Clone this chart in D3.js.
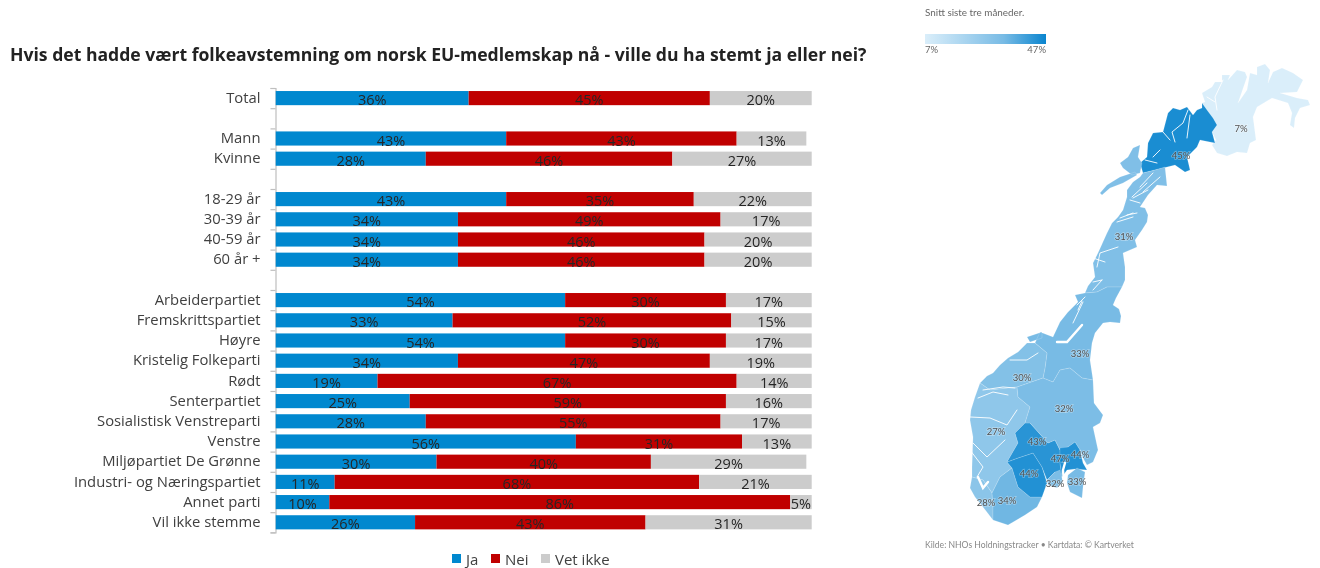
<!DOCTYPE html>
<html><head><meta charset="utf-8">
<script src="https://cdn.jsdelivr.net/npm/d3@7/dist/d3.min.js"></script>
<style>html,body{margin:0;background:#fff}svg{display:block;filter:blur(.35px)}</style></head>
<body><svg id="c" width="1320" height="568"></svg>
<script>
const titleText="Hvis det hadde vært folkeavstemning om norsk EU-medlemskap nå - ville du ha stemt ja eller nei?";
const categories=["Total"," ","Mann","Kvinne","  ","18-29 år","30-39 år","40-59 år","60 år +","   ","Arbeiderpartiet","Fremskrittspartiet","Høyre","Kristelig Folkeparti","Rødt","Senterpartiet","Sosialistisk Venstreparti","Venstre","Miljøpartiet De Grønne","Industri- og Næringspartiet","Annet parti","Vil ikke stemme"];
const ja=[36,null,43,28,null,43,34,34,34,null,54,33,54,34,19,25,28,56,30,11,10,26];
const nei=[45,null,43,46,null,35,49,46,46,null,30,52,30,47,67,59,55,31,40,68,86,43];
const vetIkke=[20,null,13,27,null,22,17,20,20,null,17,15,17,19,14,16,17,13,29,21,5,31];
const seriesNames=["Ja","Nei","Vet ikke"];
const seriesColors=["#0088cf","#c00000","#cccccc"];
const legendMin=7,legendMax=47;
const mapCaption="Snitt siste tre måneder.";
const mapSource="Kilde: NHOs Holdningstracker • Kartdata: © Kartverket";

/* County outlines, in map units */
const finnmark=[[302,43],[305,42],[302,33],[312,27],[315,22],[322,22],[322,15],[330,15],[328,20],[337,10],[345,12],[347,17],[338,43],[347,30],[350,13],[357,15],[357,7],[365,4],[370,10],[368,23],[373,12],[382,8],[393,13],[403,20],[397,32],[380,33],[397,38],[408,40],[410,45],[400,48],[395,58],[394,68],[390,65],[392,53],[388,43],[372,38],[357,47],[353,57],[356,80],[350,83],[347,93],[337,92],[327,96],[317,93],[312,85],[316,80],[312,72],[317,65],[313,58],[307,50]];
const troms=[[302,43],[307,50],[313,58],[317,65],[312,72],[315,83],[300,80],[297,87],[287,97],[290,110],[285,112],[275,105],[263,108],[255,110],[243,113],[240,103],[247,97],[248,83],[253,73],[263,72],[268,53],[273,48],[280,50],[287,47],[293,55],[297,50],[302,48]];
const nordland=[[243,113],[255,110],[265,107],[267,126],[257,125],[248,135],[240,147],[245,148],[248,155],[247,162],[242,170],[235,180],[237,187],[223,193],[225,207],[225,220],[222,227],[207,227],[197,232],[185,233],[188,226],[195,217],[193,203],[198,193],[207,173],[212,163],[218,157],[223,150],[227,137],[227,130],[233,122],[240,117]];
const vesteralen=[[220,103],[228,97],[233,88],[240,85],[238,97],[242,103],[240,113],[232,115],[223,108]];
const lofoten=[[200,133],[207,125],[220,117],[235,112],[237,115],[223,123],[210,128],[202,135]];
const trondelag=[[185,233],[197,232],[207,227],[222,227],[216,238],[213,245],[219,249],[221,256],[220,263],[210,262],[203,263],[195,273],[192,283],[190,300],[193,320],[182,318],[170,308],[160,310],[153,322],[143,318],[145,308],[147,293],[135,283],[140,272],[153,277],[160,262],[168,252],[178,242],[175,235]];
const hitra=[[127,277],[142,272],[142,278],[130,282]];
const more=[[135,283],[147,293],[145,308],[143,318],[117,327],[90,330],[80,323],[87,316],[93,313],[100,305],[108,298],[118,292],[127,283]];
const vestland=[[80,323],[90,330],[117,327],[118,337],[130,347],[125,363],[115,373],[118,383],[107,402],[112,408],[100,417],[92,433],[83,420],[72,417],[72,407],[73,377],[70,360],[71,350],[75,337]];
const rogaland=[[72,417],[83,420],[92,433],[93,447],[93,460],[83,447],[75,437],[70,428]];
const agder=[[112,408],[118,427],[130,437],[142,437],[137,447],[125,455],[108,465],[93,460],[93,447],[92,433],[100,417]];
const telemark=[[107,402],[118,398],[133,393],[142,407],[147,423],[142,437],[130,437],[118,427],[112,408]];
const buskerud=[[130,363],[148,383],[155,380],[160,390],[160,403],[162,417],[155,412],[147,420],[142,407],[133,393],[118,398],[107,402],[118,383],[115,373],[125,363]];
const innlandet=[[117,327],[143,318],[153,322],[160,310],[170,308],[182,318],[193,320],[194,343],[203,355],[200,363],[193,367],[198,390],[193,402],[187,405],[183,398],[180,390],[175,382],[168,387],[160,390],[155,380],[148,383],[130,363],[125,363],[130,347],[118,337]];
const akershus=[[160,388],[168,387],[175,382],[180,390],[183,403],[187,410],[175,409],[167,410],[162,417],[160,403]];
const oslo=[[160,395],[167,395],[165,402],[160,402]];
const vestfold=[[155,412],[160,410],[162,418],[163,422],[157,428],[148,425],[147,420]];
const ostfold=[[168,415],[177,408],[185,412],[183,427],[182,438],[170,432],[167,423]];
const counties=[
 {v:7,rings:[finnmark],at:[341,68]},
 {v:45,rings:[troms],at:[281,95]},
 {v:31,rings:[nordland,vesteralen,lofoten],at:[224,176]},
 {v:33,rings:[trondelag,hitra],at:[180,293]},
 {v:30,rings:[more],at:[122,317]},
 {v:27,rings:[vestland],at:[96,371]},
 {v:28,rings:[rogaland],at:[86,442]},
 {v:34,rings:[agder],at:[107,440]},
 {v:44,rings:[telemark],at:[129,413]},
 {v:43,rings:[buskerud],at:[137,381]},
 {v:32,rings:[innlandet],at:[164,348]},
 {v:44,rings:[akershus],at:[180,394]},
 {v:47,rings:[oslo],at:[160,398]},
 {v:32,rings:[vestfold],at:[155,423]},
 {v:33,rings:[ostfold],at:[177,421]}
];
const fjords=[
 [[288,50],[283,63],[272,72],[275,82]],[[290,55],[287,78]],[[263,72],[270,80]],[[253,97],[260,90]],[[245,100],[257,103]],
 [[323,20],[315,37],[317,50]],[[307,37],[315,42]],
 [[248,130],[233,138]],[[240,143],[230,140]],[[233,153],[220,158]],[[218,187],[200,193],[197,207]],[[202,220],[193,230]],
 [[190,197],[205,202]],[[193,222],[202,220]],[[177,245],[185,237]],[[178,250],[182,241]],[[227,155],[237,153]],[[217,162],[233,157]],
 [[240,127],[253,113]],[[243,132],[260,117]],[[232,137],[247,123]],
 [[183,242],[173,263]],[[110,300],[127,300],[138,293]],[[83,330],[103,327],[115,328]],[[78,338],[93,332],[108,335]],
 [[70,357],[90,358],[107,365],[117,350]],[[73,383],[87,397],[105,380]],[[70,390],[83,407],[77,417]]
];
const wideFjords=[[[157,282],[167,282],[182,265]],[[78,417],[83,428],[88,422]],[[165,403],[163,410],[164,423]]];

const svg=d3.select("#c");
const F='"Open Sans",sans-serif';
svg.append("text").attr("x",10).attr("y",61).attr("font-family",F).attr("font-weight",700).attr("font-size",17.6).attr("fill","#222").text(titleText);

const x=d3.scaleLinear().domain([0,100]).range([275.7,811.7]).clamp(true);
const edges=d3.scaleLinear().domain([0,categories.length]).range([88,532.4]);
const y=d3.scaleBand().domain(categories).range([88,532.4]).paddingInner(.3).paddingOuter(.15);

const gEdge=svg.append("g").attr("transform","translate(275.5,0)").call(d3.axisLeft(edges).tickValues(d3.range(categories.length+1)).tickSize(5).tickFormat(""));
gEdge.selectAll("path,line").attr("stroke","#bfbfbf").attr("stroke-width",1.2);
const gLab=svg.append("g").attr("transform","translate(275.5,0)").call(d3.axisLeft(y).tickSize(0).tickPadding(15));
gLab.select(".domain").remove();
gLab.selectAll("text").attr("font-family",F).attr("font-size",14.8).attr("fill","#404040");

const rows=categories.map((c,i)=>({c,vals:[ja[i],nei[i],vetIkke[i]]})).filter(r=>r.vals[0]!==null);
const rowG=svg.append("g").selectAll("g").data(rows).join("g");
rowG.each(function(r){
 let cum=0;
 const g=d3.select(this);
 r.vals.forEach((v,k)=>{
  const x0=x(cum),x1=x(cum+v);cum+=v;
  g.append("rect").attr("x",x0).attr("y",y(r.c)).attr("width",x1-x0).attr("height",y.bandwidth()).attr("fill",seriesColors[k]);
  g.append("text").attr("x",(x0+x1)/2).attr("y",y(r.c)+y.bandwidth()/2+7).attr("text-anchor","middle").attr("font-family",F).attr("font-size",14.5).attr("fill","#262626").text(v+"%");
 });
});

const legX=[452,491,541];
const leg=svg.append("g").selectAll("g").data(seriesNames).join("g").attr("transform",(d,i)=>`translate(${legX[i]},554)`);
leg.append("rect").attr("width",9).attr("height",9).attr("fill",(d,i)=>seriesColors[i]);
leg.append("text").attr("x",14).attr("y",11).attr("font-family",F).attr("font-size",15).attr("fill","#404040").text(d=>d);

/* Map */
const colour=d3.scaleLinear().domain([7,33,47]).range(["#daeefa","#78bbe5","#0a85cf"]);
const proj=d3.geoIdentity().translate([900,60]);
const path=d3.geoPath(proj);
const mapF='Lato,"Open Sans",sans-serif';
svg.append("g").selectAll("path").data(counties).join("path")
 .attr("d",d=>path({type:"MultiPolygon",coordinates:d.rings.map(r=>[[...r,r[0]]])}))
 .attr("fill",d=>colour(d.v)).attr("stroke","#fff").attr("stroke-opacity",.3).attr("stroke-width",.5);
svg.append("g").selectAll("path").data(fjords).join("path")
 .attr("d",d=>path({type:"LineString",coordinates:d})).attr("fill","none").attr("stroke","#fff").attr("stroke-width",.9).attr("stroke-linecap","round");
svg.append("g").selectAll("path").data(wideFjords).join("path")
 .attr("d",d=>path({type:"LineString",coordinates:d})).attr("fill","none").attr("stroke","#fff").attr("stroke-width",2.4).attr("stroke-linecap","round");
svg.append("g").selectAll("text").data(counties).join("text")
 .attr("x",d=>proj(d.at)[0]).attr("y",d=>proj(d.at)[1]+3.5).attr("text-anchor","middle")
 .attr("font-family",mapF).attr("font-size",9.5).attr("fill","#505050")
 .attr("stroke","#fff").attr("stroke-opacity",.35).attr("stroke-width",1.5).attr("paint-order","stroke").text(d=>d.v+"%");

const defs=svg.append("defs");
const grad=defs.append("linearGradient").attr("id","lg");
colour.domain().forEach(v=>grad.append("stop").attr("offset",(v-legendMin)/(legendMax-legendMin)).attr("stop-color",colour(v)));
const lgScale=d3.scaleLinear().domain([legendMin,legendMax]).range([925,1046]);
svg.append("rect").attr("x",lgScale(legendMin)).attr("y",34).attr("width",lgScale(legendMax)-lgScale(legendMin)).attr("height",10).attr("fill","url(#lg)");
const small=(xx,yy,t,a,fs,fc)=>svg.append("text").attr("x",xx).attr("y",yy).attr("text-anchor",a||"start").attr("font-family",mapF).attr("font-size",fs).attr("fill",fc).text(t);
small(925,16,mapCaption,"start",9.9,"#666");
small(lgScale(legendMin),53,legendMin+"%","start",9.5,"#666");
small(lgScale(legendMax),53,legendMax+"%","end",9.5,"#666");
small(925,548,mapSource,"start",8.6,"#888");
</script></body></html>
